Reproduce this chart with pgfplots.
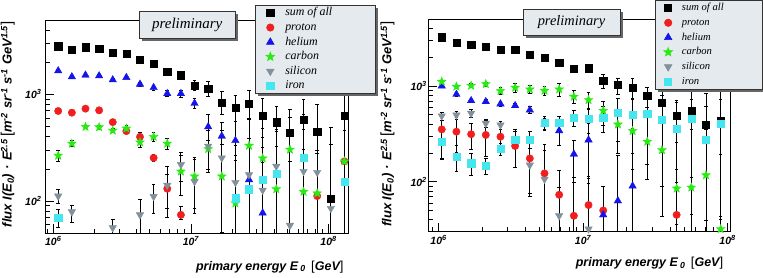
\documentclass[border=0pt]{standalone}
\usepackage{pgfplots}
\pgfplotsset{compat=1.18}
\usepackage{fontspec}
\setmainfont{Liberation Serif}
\newfontfamily\hv{Liberation Sans}
\usetikzlibrary{shadows}

\definecolor{cRed}{RGB}{240,30,30}
\definecolor{cBlue}{RGB}{20,20,235}
\definecolor{cGreen}{RGB}{40,235,20}
\definecolor{cGrey}{RGB}{130,145,155}
\definecolor{cCyan}{RGB}{70,230,240}
\definecolor{cBox}{RGB}{228,234,237}

\newcommand{\lb}{{\hv\mdseries\upshape\fontsize{15}{15}\selectfont[}}
\newcommand{\rb}{{\hv\mdseries\upshape\fontsize{15}{15}\selectfont]}}
\newcommand{\lbx}{{\hv\mdseries\upshape\fontsize{13}{13}\selectfont[}}
\newcommand{\rbx}{{\hv\mdseries\upshape\fontsize{13}{13}\selectfont]}}

\pgfdeclareplotmark{fstar}{%
  \pgfpathmoveto{\pgfpointpolar{90}{\pgfplotmarksize}}%
  \pgfpathlineto{\pgfpointpolar{126}{0.42\pgfplotmarksize}}%
  \pgfpathlineto{\pgfpointpolar{162}{\pgfplotmarksize}}%
  \pgfpathlineto{\pgfpointpolar{198}{0.42\pgfplotmarksize}}%
  \pgfpathlineto{\pgfpointpolar{234}{\pgfplotmarksize}}%
  \pgfpathlineto{\pgfpointpolar{270}{0.42\pgfplotmarksize}}%
  \pgfpathlineto{\pgfpointpolar{306}{\pgfplotmarksize}}%
  \pgfpathlineto{\pgfpointpolar{342}{0.42\pgfplotmarksize}}%
  \pgfpathlineto{\pgfpointpolar{18}{\pgfplotmarksize}}%
  \pgfpathlineto{\pgfpointpolar{54}{0.42\pgfplotmarksize}}%
  \pgfpathclose
  \pgfusepathqfillstroke
}

\pgfplotsset{
  legend image code/.code={\path[draw=none,fill=none] (0pt,0pt) (20pt,0pt);\draw[#1] plot[only marks] coordinates {(10pt,0pt)};},
  ebar/.style={/pgfplots/error bars/y dir=both,
     /pgfplots/error bars/y explicit relative,
     /pgfplots/error bars/error bar style={black, line width=0.9pt},
     /pgfplots/error bars/error mark options={rotate=90, black, line width=0.9pt, mark size=1.8pt}},
  psum/.style={only marks, mark=square*, mark size=3.6pt, black, ebar},
  pprot/.style={only marks, mark=*, mark size=3.7pt, cRed, ebar},
  phel/.style={only marks, mark=triangle*, mark size=4.3pt, cBlue, ebar},
  pcar/.style={only marks, mark=fstar, mark size=4.6pt, cGreen, ebar},
  psil/.style={only marks, mark=triangle*, mark size=4.3pt, mark options={rotate=180}, cGrey, ebar},
  piron/.style={only marks, mark=square*, mark size=3.6pt, cCyan, ebar},
}

\begin{document}
\begin{tikzpicture}
\useasboundingbox (0,0) rectangle (763pt,277pt);
% ---------------- left panel ----------------
\begin{axis}[
  xmode=log, ymode=log, scale only axis,
  tick pos=left, tick align=inside,
  major tick length=9pt, minor tick length=4.5pt,
  axis line style={black, line width=0.8pt},
  tick style={black, line width=0.6pt},
  tick label style={font=\hv\bfseries\itshape\fontsize{10.5}{12}\selectfont},
  xlabel style={font=\hv\bfseries\itshape\fontsize{12.5}{14}\selectfont},
  ylabel style={font=\hv\bfseries\itshape\fontsize{13}{14}\selectfont},
  xtick={1e6,1e7,1e8},
  xticklabels={10\textsuperscript{6},10\textsuperscript{7},10\textsuperscript{8}},
  minor xtick={9e5,2e6,3e6,4e6,5e6,6e6,7e6,8e6,9e6,2e7,3e7,4e7,5e7,6e7,7e7,8e7,9e7},
  ytick={100,1000},
  yticklabels={10\textsuperscript{2},10\textsuperscript{3}},
  xlabel={primary energy E\,\textsubscript{0} \,\lbx GeV\rbx},
  ylabel={flux I(E\textsubscript{0})\,\,·\,\,E\textsuperscript{2.5}\,\lb m\textsuperscript{-2} sr\textsuperscript{-1} s\textsuperscript{-1} GeV\textsuperscript{1.5}\rb},
  legend cell align=left,
  at={(45pt,44pt)}, anchor=south west, width=303pt, height=213pt,
  xmin=8.71e5, xmax=1.383e8, ymin=50, ymax=4970,
  minor ytick={60,70,80,90,200,300,400,500,600,700,800,900,2000,3000,4000},
  xlabel style={at={(axis description cs:0.9967,-0.158)}, anchor=east},
  ylabel style={at={(axis description cs:-0.123,1.009)}, anchor=east},
  legend style={at={(0.693,1.070)}, anchor=north west, fill=cBox, draw=black!80, line width=0.6pt,
    drop shadow={shadow xshift=2.5pt, shadow yshift=-2.5pt, fill=black!60, opacity=1},
    font=\itshape\fontsize{11.9}{13}\selectfont,
    inner xsep=5pt, inner ysep=2pt, row sep=3.5pt, column sep=5pt,
    nodes={inner sep=0pt, text height=8.5pt, text depth=2.6pt}},
]
\addplot[psum] table[x=x,y=y,y error plus=ep,y error minus=em] {
x y ep em
1.086e6 2818 0.03 0.03
1.365e6 2620 0.03 0.03
1.714e6 2757 0.03 0.03
2.153e6 2697 0.03 0.03
2.704e6 2437 0.04 0.04
3.396e6 2421 0.04 0.04
4.266e6 2109 0.05 0.05
5.358e6 1946 0.05 0.05
6.730e6 1636 0.06 0.06
8.453e6 1511 0.07 0.07
1.062e7 1198 0.12 0.10
1.334e7 1131 0.16 0.16
1.675e7 834 0.27 0.22
2.104e7 743 0.32 0.25
2.642e7 822 0.32 0.30
3.319e7 625 0.45 0.60
4.169e7 548 0.40 0.70
5.236e7 435 0.65 0.99
6.577e7 581 0.55 0.99
8.260e7 448 0.80 0.99
1.038e8 105 3.7 0.99
1.303e8 634 1.5 0.99
};
\addlegendentry{\makebox[85pt][l]{sum of all}}
\addplot[pprot] table[x=x,y=y,y error plus=ep,y error minus=em] {
x y ep em
1.086e6 697 0.03 0.03
1.365e6 672 0.03 0.03
1.714e6 733 0.03 0.03
2.153e6 707 0.03 0.03
2.704e6 548 0.04 0.04
3.396e6 451 0.05 0.05
4.266e6 399 0.10 0.10
5.358e6 253 0.08 0.08
6.730e6 130 0.35 0.35
8.453e6 74 0.20 0.10
8.260e7 111 1.5 0.99
1.303e8 235 1.5 0.99
};
\addlegendentry{\makebox[85pt][l]{proton}}
\addplot[phel] table[x=x,y=y,y error plus=ep,y error minus=em] {
x y ep em
1.086e6 1660 0.03 0.03
1.365e6 1458 0.03 0.03
1.714e6 1511 0.03 0.03
2.153e6 1489 0.03 0.03
2.704e6 1365 0.03 0.03
3.396e6 1436 0.03 0.03
4.266e6 1242 0.04 0.04
5.358e6 1155 0.05 0.05
6.730e6 1014 0.06 0.06
8.453e6 1014 0.07 0.07
1.062e7 822 0.10 0.10
1.334e7 495 0.30 0.25
1.675e7 405 0.35 0.35
2.104e7 368 0.5 0.6
2.642e7 158 1.0 0.9
3.319e7 77 2.0 0.99
};
\addlegendentry{\makebox[85pt][l]{helium}}
\addplot[pcar] table[x=x,y=y,y error plus=ep,y error minus=em] {
x y ep em
1.086e6 266 0.12 0.12
1.365e6 345 0.06 0.06
1.714e6 495 0.04 0.04
2.153e6 492 0.04 0.04
2.704e6 457 0.05 0.05
3.396e6 478 0.06 0.06
4.266e6 355 0.10 0.10
5.358e6 399 0.10 0.10
6.730e6 345 0.12 0.12
8.453e6 189 0.4 0.4
1.062e7 170 0.5 0.5
1.334e7 307 0.5 0.4
1.675e7 170 1.0 0.8
2.104e7 95 1.5 0.9
2.642e7 330 0.8 0.9
3.319e7 251 0.9 0.99
4.169e7 129 1.5 0.99
5.236e7 303 1.0 0.99
6.577e7 122 1.5 0.99
8.260e7 118 1.5 0.99
1.303e8 235 1.5 0.99
};
\addlegendentry{\makebox[85pt][l]{carbon}}
\addplot[psil] table[x=x,y=y,y error plus=ep,y error minus=em] {
x y ep em
1.086e6 111 0.15 0.15
1.365e6 79 0.15 0.2
2.704e6 56 0.2 0.2
4.266e6 74 0.4 0.5
5.358e6 110 0.3 0.3
6.730e6 140 0.5 0.5
8.453e6 219 0.3 0.3
1.062e7 152 0.6 0.5
1.334e7 326 0.4 0.4
1.675e7 253 0.8 0.8
2.104e7 149 1.2 0.9
2.642e7 176 1.2 0.9
3.319e7 126 1.5 0.9
4.169e7 211 1.2 0.99
5.236e7 59 3 0.99
6.577e7 189 1.5 0.99
8.260e7 185 1.5 0.99
1.038e8 85 3 0.99
};
\addlegendentry{\makebox[85pt][l]{silicon}}
\addplot[piron] table[x=x,y=y,y error plus=ep,y error minus=em] {
x y ep em
1.086e6 70 0.2 0.2
2.104e7 106 1.5 0.99
2.642e7 129 1.5 0.99
3.319e7 158 1.5 0.99
4.169e7 180 1.5 0.99
6.577e7 256 1.5 0.99
1.303e8 152 2 0.99
};
\addlegendentry{\makebox[85pt][l]{iron}}
\end{axis}
% ---------------- right panel ----------------
\begin{axis}[
  xmode=log, ymode=log, scale only axis,
  tick pos=left, tick align=inside,
  major tick length=9pt, minor tick length=4.5pt,
  axis line style={black, line width=0.8pt},
  tick style={black, line width=0.6pt},
  tick label style={font=\hv\bfseries\itshape\fontsize{10.5}{12}\selectfont},
  yticklabel style={xshift=2pt},
  xlabel style={font=\hv\bfseries\itshape\fontsize{12.5}{14}\selectfont},
  ylabel style={font=\hv\bfseries\itshape\fontsize{13}{14}\selectfont},
  xtick={1e6,1e7,1e8},
  xticklabels={10\textsuperscript{6},10\textsuperscript{7},10\textsuperscript{8}},
  minor xtick={9e5,2e6,3e6,4e6,5e6,6e6,7e6,8e6,9e6,2e7,3e7,4e7,5e7,6e7,7e7,8e7,9e7},
  ytick={100,1000},
  yticklabels={10\textsuperscript{2},10\textsuperscript{3}},
  xlabel={primary energy E\,\textsubscript{0} \,\lbx GeV\rbx},
  ylabel={flux I(E\textsubscript{0})\,\,·\,\,E\textsuperscript{2.5}\,\lb m\textsuperscript{-2} sr\textsuperscript{-1} s\textsuperscript{-1} GeV\textsuperscript{1.5}\rb},
  legend cell align=left,
  at={(428.3pt,45.3pt)}, anchor=south west, width=301.7pt, height=212.7pt,
  xmin=8.492e5, xmax=1.040e8, ymin=30, ymax=5012,
  minor ytick={40,50,60,70,80,90,200,300,400,500,600,700,800,900,2000,3000,4000},
  xlabel style={at={(axis description cs:0.989,-0.1486)}, anchor=east},
  ylabel style={at={(axis description cs:-0.135,1.005)}, anchor=east},
  legend style={at={(0.751,1.089)}, anchor=north west, fill=cBox, draw=black!80, line width=0.6pt,
    drop shadow={shadow xshift=2.5pt, shadow yshift=-2.5pt, fill=black!60, opacity=1},
    font=\itshape\fontsize{10.6}{12}\selectfont,
    inner xsep=3pt, inner ysep=2.5pt, row sep=4.3pt, column sep=3.7pt,
    nodes={inner sep=0pt, text height=8pt, text depth=2.4pt}},
]
\addplot[psum] table[x=x,y=y,y error plus=ep,y error minus=em] {
x y ep em
1.052e6 3228 0.03 0.03
1.329e6 2839 0.03 0.03
1.680e6 2684 0.03 0.03
2.122e6 2578 0.03 0.03
2.682e6 2417 0.04 0.04
3.388e6 2377 0.04 0.04
4.281e6 2109 0.04 0.04
5.410e6 1977 0.05 0.05
6.835e6 1766 0.05 0.05
8.638e6 1506 0.06 0.06
1.091e7 1531 0.07 0.07
1.379e7 1128 0.16 0.16
1.742e7 1024 0.17 0.21
2.202e7 961 0.25 0.25
2.782e7 793 0.22 0.24
3.516e7 670 0.36 0.70
4.442e7 486 0.38 0.80
5.613e7 552 0.31 0.80
7.093e7 397 0.55 0.90
8.963e7 434 0.67 0.90
};
\addlegendentry{\makebox[77pt][l]{sum of all}}
\addplot[pprot] table[x=x,y=y,y error plus=ep,y error minus=em] {
x y ep em
1.052e6 352 0.5 0.5
1.329e6 333 0.4 0.4
1.680e6 313 0.3 0.3
2.122e6 308 0.4 0.4
2.682e6 295 0.3 0.3
3.388e6 236 0.5 0.4
4.281e6 175 0.6 0.6
5.410e6 122 1.0 0.8
6.835e6 73 0.8 0.8
8.638e6 44 1.5 0.9
1.091e7 57 1.0 0.9
1.379e7 50 0.8 0.8
4.442e7 45 2 0.9
};
\addlegendentry{\makebox[77pt][l]{proton}}
\addplot[phel] table[x=x,y=y,y error plus=ep,y error minus=em] {
x y ep em
1.052e6 1000 0.04 0.04
1.329e6 818 0.04 0.04
1.680e6 703 0.04 0.04
2.122e6 686 0.05 0.05
2.682e6 649 0.05 0.05
3.388e6 623 0.05 0.05
4.281e6 561 0.08 0.08
5.410e6 400 0.15 0.15
6.835e6 341 0.3 0.3
8.638e6 194 0.4 0.5
1.091e7 273 0.5 0.6
1.379e7 45 1.0 0.9
1.742e7 63 2.0 0.9
2.202e7 90 3.0 0.9
};
\addlegendentry{\makebox[77pt][l]{helium}}
\addplot[pcar] table[x=x,y=y,y error plus=ep,y error minus=em] {
x y ep em
1.052e6 1110 0.04 0.04
1.329e6 985 0.04 0.04
1.680e6 1008 0.05 0.05
2.122e6 1049 0.05 0.05
2.682e6 887 0.08 0.08
3.388e6 961 0.10 0.10
4.281e6 923 0.10 0.10
5.410e6 894 0.10 0.10
6.835e6 923 0.15 0.15
8.638e6 774 0.15 0.15
1.091e7 714 0.20 0.20
1.379e7 552 0.25 0.30
1.742e7 397 0.35 0.50
2.202e7 339 0.60 0.60
2.782e7 262 0.80 0.60
3.516e7 214 1.0 0.8
4.442e7 85 2.0 0.9
5.613e7 87 3.0 0.9
7.093e7 117 2.0 0.9
8.963e7 32 5.0 0.9
};
\addlegendentry{\makebox[77pt][l]{carbon}}
\addplot[psil] table[x=x,y=y,y error plus=ep,y error minus=em] {
x y ep em
1.052e6 486 0.1 0.1
1.329e6 497 0.1 0.1
1.680e6 518 0.1 0.1
2.122e6 407 0.1 0.1
2.682e6 391 0.1 0.1
4.281e6 149 0.5 0.5
5.410e6 106 1.0 0.9
6.835e6 44 1.0 0.9
1.091e7 32 2.0 0.9
};
\addlegendentry{\makebox[77pt][l]{silicon}}
\addplot[piron] table[x=x,y=y,y error plus=ep,y error minus=em] {
x y ep em
1.052e6 262 0.3 0.35
1.329e6 182 0.3 0.3
1.680e6 156 0.25 0.25
2.122e6 147 0.2 0.2
2.682e6 219 0.15 0.15
3.388e6 277 0.2 0.2
4.281e6 277 0.2 0.2
5.410e6 414 0.15 0.15
6.835e6 414 0.15 0.15
8.638e6 467 0.2 0.2
1.091e7 452 0.3 0.3
1.379e7 467 0.3 0.3
1.742e7 526 0.4 0.5
2.202e7 498 0.5 0.6
2.782e7 509 0.6 0.7
3.516e7 441 0.8 0.8
4.442e7 356 1.0 0.9
5.613e7 452 1.0 0.9
7.093e7 277 2.0 0.9
8.963e7 401 1.5 0.9
};
\addlegendentry{\makebox[77pt][l]{iron}}
\end{axis}
% preliminary boxes
\node[draw=black!80, fill=cBox, line width=0.6pt,
  drop shadow={shadow xshift=2.5pt, shadow yshift=-2.5pt, fill=black!60, opacity=1},
  minimum width=95.7pt, minimum height=26.6pt, inner sep=0pt,
  font=\itshape\fontsize{15}{17}\selectfont] at (187.2pt,252pt) {preliminary};
\node[draw=black!80, fill=cBox, line width=0.6pt,
  drop shadow={shadow xshift=2.5pt, shadow yshift=-2.5pt, fill=black!60, opacity=1},
  minimum width=97pt, minimum height=25.7pt, inner sep=0pt,
  font=\itshape\fontsize{14.4}{16}\selectfont] at (571.5pt,254.8pt) {preliminary};
\end{tikzpicture}
\end{document}
